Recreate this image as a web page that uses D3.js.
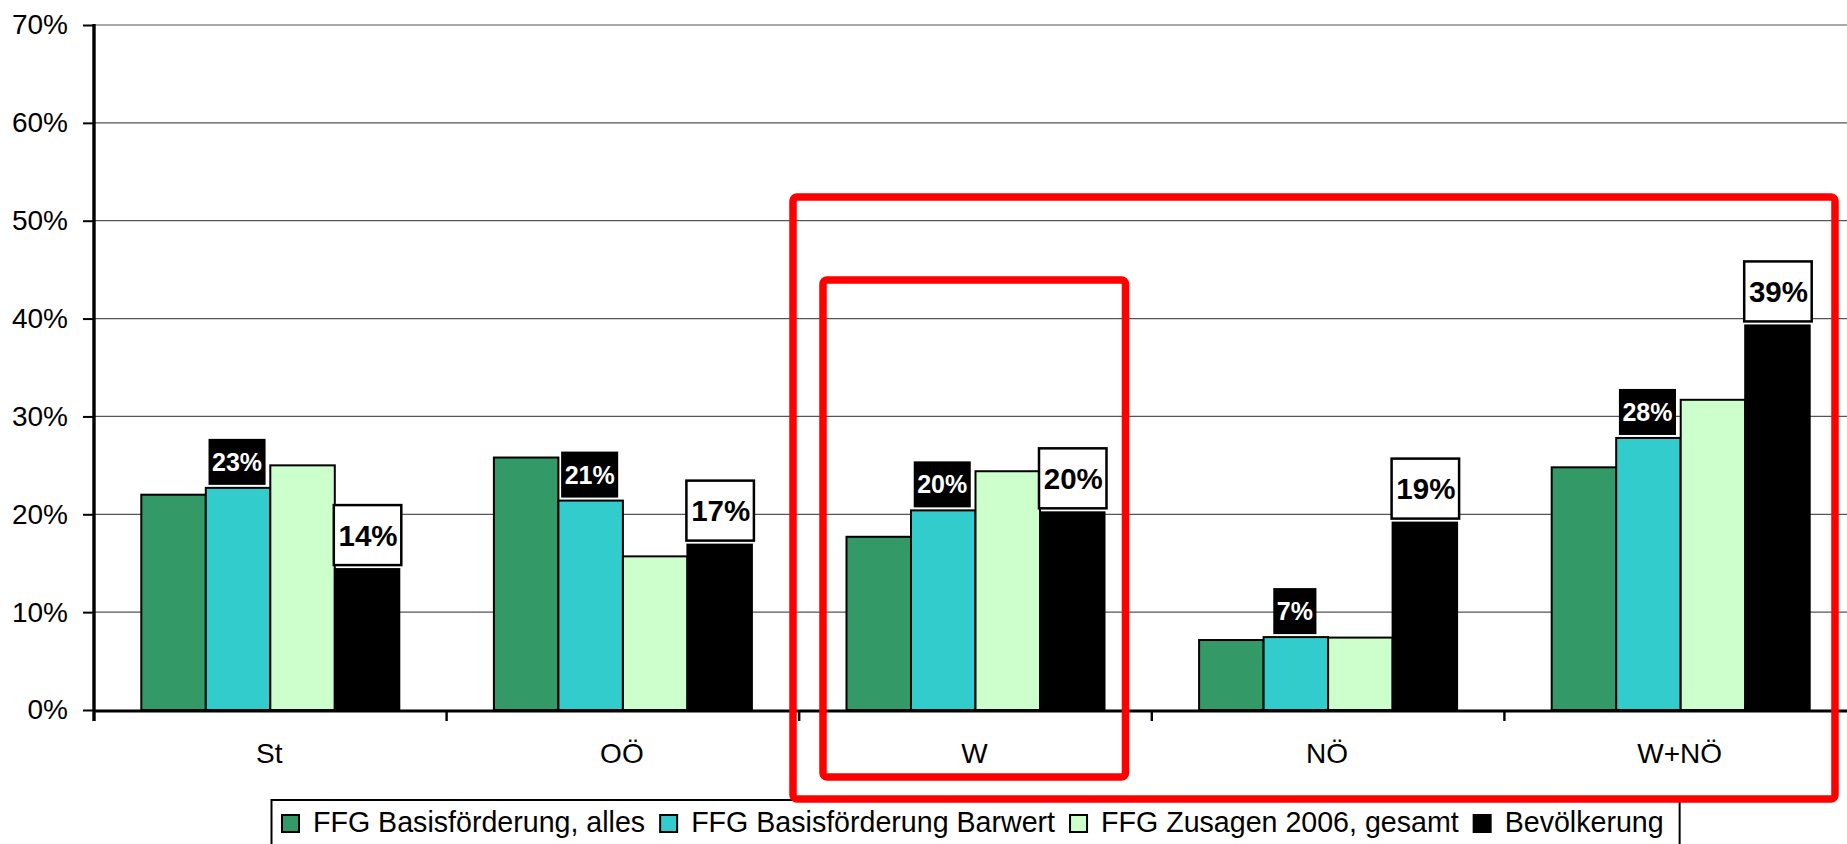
<!DOCTYPE html>
<html>
<head>
<meta charset="utf-8">
<script src="https://cdn.jsdelivr.net/npm/d3@7"></script>
<style>
  html, body { margin: 0; padding: 0; background: #fff; }
  svg { display: block; }
  text { font-family: "Liberation Sans", Arial, sans-serif; }
</style>
</head>
<body>
<svg id="chart" width="1847" height="844"></svg>
<script>
// Regions (x-axis categories)
const categories = ["St", "OÖ", "W", "NÖ", "W+NÖ"];

// Series values, in percent
const basisAlles    = [22.0, 25.8, 17.7, 7.15, 24.8];
const basisBarwert  = [22.7, 21.4, 20.4, 7.45, 27.8];
const zusagen2006   = [25.0, 15.7, 24.4, 7.4, 31.7];
const bevoelkerung  = [14.4, 16.9, 20.2, 19.15, 39.3];

const seriesNames = [
  "FFG Basisförderung, alles",
  "FFG Basisförderung Barwert",
  "FFG Zusagen 2006, gesamt",
  "Bevölkerung"
];
const seriesColors = ["#339966", "#33CCCC", "#CCFFCC", "#000000"];

// Y-axis ticks
const yTicks = [0, 10, 20, 30, 40, 50, 60, 70];

const seriesValues = [basisAlles, basisBarwert, zusagen2006, bevoelkerung];
const rows = categories.map((c, i) => ({
  cat: c,
  vals: seriesValues.map((arr, s) => ({ s, v: arr[i] }))
}));

const svg = d3.select("#chart");
svg.append("rect").attr("width", 1847).attr("height", 844).attr("fill", "#fff");

const left = 94, baseY = 710, topY = 25, catW = 352.6;
const y = d3.scaleLinear().domain([0, 70]).range([baseY, topY]);
const x0 = d3.scaleBand().domain(categories).range([left, left + catW * categories.length]).padding(0);
const x1 = d3.scaleBand().domain(d3.range(seriesNames.length)).range([47.3, catW - 47.3]).padding(0);
const plotRight = left + catW * categories.length;

// Gridlines
svg.append("g").selectAll("line").data(yTicks.filter(t => t > 0)).join("line")
  .attr("x1", left).attr("x2", plotRight)
  .attr("y1", d => y(d)).attr("y2", d => y(d))
  .attr("stroke", "#555").attr("stroke-width", 1.2);

// Y axis
const yAxis = d3.axisLeft(y).tickValues(yTicks).tickFormat(d => d + "%").tickSize(11).tickPadding(15);
const gy = svg.append("g").attr("transform", `translate(${left},0)`).call(yAxis);
gy.select(".domain").remove();
gy.selectAll(".tick line").attr("stroke", "#000").attr("stroke-width", 2);
gy.selectAll(".tick text").attr("font-size", 28).attr("fill", "#000")
  .attr("font-family", "'Liberation Sans', Arial, sans-serif").attr("x", -26);

// Bars
const groups = svg.append("g").selectAll("g").data(rows).join("g")
  .attr("transform", d => `translate(${x0(d.cat)},0)`);
groups.selectAll("rect").data(d => d.vals).join("rect")
  .attr("x", d => x1(d.s))
  .attr("y", d => y(d.v))
  .attr("width", x1.bandwidth())
  .attr("height", d => baseY - y(d.v))
  .attr("fill", d => seriesColors[d.s])
  .attr("stroke", "#000").attr("stroke-width", 2);

// X axis line and category ticks
svg.append("line").attr("x1", left).attr("x2", plotRight).attr("y1", baseY + 1).attr("y2", baseY + 1)
  .attr("stroke", "#000").attr("stroke-width", 3);
svg.append("line").attr("x1", left).attr("x2", left).attr("y1", topY - 1).attr("y2", baseY + 11)
  .attr("stroke", "#000").attr("stroke-width", 3.4);
svg.append("g").selectAll("line").data(categories.slice(1)).join("line")
  .attr("x1", d => x0(d)).attr("x2", d => x0(d))
  .attr("y1", baseY).attr("y2", baseY + 11)
  .attr("stroke", "#000").attr("stroke-width", 2.4);
svg.append("g").selectAll("text").data(categories).join("text")
  .attr("x", d => x0(d) + x0.bandwidth() / 2 - 1)
  .attr("y", 763)
  .attr("text-anchor", "middle").attr("font-size", 28).attr("fill", "#000")
  .text(d => d);

// Value labels: Barwert (black box, white text)
const lbl = svg.append("g");
rows.forEach(r => {
  const d = r.vals[1];
  const cx = x0(r.cat) + x1(1) + x1.bandwidth() / 2 - 1;
  const g = lbl.append("g");
  const t = g.append("text").attr("x", cx).attr("y", 0)
    .attr("text-anchor", "middle").attr("font-size", 25).attr("font-weight", "bold")
    .attr("fill", "#fff").text(Math.round(d.v) + "%");
  const w = t.node().getComputedTextLength() + 7;
  const bottom = y(d.v) - 3, h = 46;
  g.insert("rect", "text").attr("x", cx - w / 2).attr("y", bottom - h).attr("width", w).attr("height", h)
    .attr("fill", "#000");
  t.attr("y", bottom - h / 2 + 9);
});

// Value labels: Bevölkerung (white box, black border)
rows.forEach(r => {
  const d = r.vals[3];
  const bx = x0(r.cat) + x1(3);
  const g = lbl.append("g");
  const bottom = y(d.v) - 4, h = 60;
  g.append("rect").attr("x", bx - 1).attr("y", bottom - h).attr("width", x1.bandwidth() + 3).attr("height", h)
    .attr("fill", "#fff").attr("stroke", "#000").attr("stroke-width", 2.5);
  g.append("text").attr("x", bx + x1.bandwidth() / 2 + 1).attr("y", bottom - h / 2 + 10.5)
    .attr("text-anchor", "middle").attr("font-size", 29.5).attr("font-weight", "bold")
    .attr("fill", "#000").text(Math.round(d.v) + "%");
});

// Legend
const legend = svg.append("g");
const legBox = legend.append("rect").attr("x", 271.5).attr("y", 800).attr("height", 80)
  .attr("fill", "#fff").attr("stroke", "#000").attr("stroke-width", 2);
let lx = 282;
seriesNames.forEach((name, i) => {
  legend.append("rect").attr("x", lx).attr("y", 815).attr("width", 17).attr("height", 17)
    .attr("fill", seriesColors[i]).attr("stroke", "#000").attr("stroke-width", 2);
  const t = legend.append("text").attr("x", lx + 31).attr("y", 832)
    .attr("font-size", 28.6).attr("fill", "#000").text(name);
  lx += 31 + t.node().getComputedTextLength() + 15;
});
legBox.attr("width", lx - 271.5 + 1);

// Highlight frames
const frames = svg.append("g").attr("fill", "none").attr("stroke", "#FF0000").attr("stroke-width", 7.5);
frames.append("rect").attr("x", 793).attr("y", 197).attr("width", 1042).attr("height", 602).attr("rx", 4);
frames.append("rect").attr("x", 823).attr("y", 280).attr("width", 302.5).attr("height", 497).attr("rx", 4);
</script>
</body>
</html>
